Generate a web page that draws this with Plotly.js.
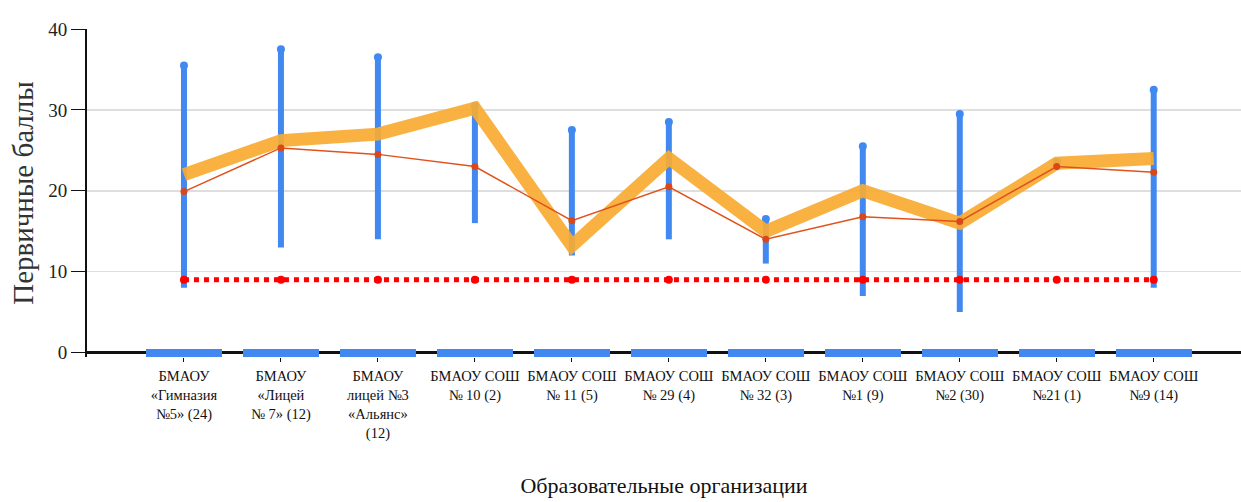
<!DOCTYPE html>
<html>
<head>
<meta charset="utf-8">
<script src="https://cdn.plot.ly/plotly-3.0.1.min.js"></script>
<style>html,body{margin:0;padding:0;background:#fff;}#chart{width:1241px;height:502px;}</style>
</head>
<body>
<div id="chart"></div>
<script>
// Categories (educational organisations, number of participants)
const categories = [
  "БМАОУ<br>«Гимназия<br>№5» (24)",
  "БМАОУ<br>«Лицей<br>№ 7» (12)",
  "БМАОУ<br>лицей №3<br>«Альянс»<br>(12)",
  "БМАОУ СОШ<br>№ 10 (2)",
  "БМАОУ СОШ<br>№ 11 (5)",
  "БМАОУ СОШ<br>№ 29 (4)",
  "БМАОУ СОШ<br>№ 32 (3)",
  "БМАОУ СОШ<br>№1 (9)",
  "БМАОУ СОШ<br>№2 (30)",
  "БМАОУ СОШ<br>№21 (1)",
  "БМАОУ СОШ<br>№9 (14)"
];
// Score range per organisation
const minScore = [8, 13, 14, 16, 12, 14, 11, 7, 5, 22.8, 8];
const maxScore = [35.5, 37.5, 36.5, 30.5, 27.5, 28.5, 16.5, 25.5, 29.5, 23.6, 32.5];
// Average score (thick orange line)
const avgScore = [22.0, 26.2, 27.0, 30.2, 13.2, 24.0, 15.0, 20.0, 16.0, 23.4, 24.0];
// Second series (thin red line)
const medScore = [19.9, 25.3, 24.5, 23.0, 16.3, 20.5, 14.0, 16.8, 16.2, 23.0, 22.3];
// Threshold (minimum passing score)
const threshold = [9, 9, 9, 9, 9, 9, 9, 9, 9, 9, 9];
// Zero-level series (blue bars at the axis)
const zeroSeries = [0, 0, 0, 0, 0, 0, 0, 0, 0, 0, 0];

const idx = categories.map((_, i) => i);
const blue = '#4189f0';

// vertical range segments
const rx = [], ry = [];
idx.forEach(i => { rx.push(i, i, null); ry.push(minScore[i], maxScore[i], null); });

const traces = [
  {
    type: 'bar', x: idx, y: zeroSeries.map(() => 0.95), base: zeroSeries.map(v => v - 0.5),
    width: 0.78, marker: {color: blue}, hoverinfo: 'skip', showlegend: false
  },
  {
    type: 'scatter', mode: 'lines', x: rx, y: ry,
    line: {color: blue, width: 6}, showlegend: false, hoverinfo: 'skip'
  },
  {
    type: 'scatter', mode: 'markers', x: idx, y: maxScore,
    marker: {color: blue, size: 8}, showlegend: false
  },
  {
    type: 'scatter', mode: 'lines+markers', x: idx, y: threshold,
    line: {color: '#ff0000', width: 5, dash: 'dot'},
    marker: {color: '#ff0000', size: 8}, showlegend: false
  },
  {
    type: 'scatter', mode: 'lines', x: idx, y: avgScore,
    line: {color: 'rgba(249,170,50,0.92)', width: 13}, showlegend: false
  },
  {
    type: 'scatter', mode: 'lines+markers', x: idx, y: medScore,
    line: {color: '#e0521c', width: 1.5},
    marker: {color: '#d9471a', size: 7}, showlegend: false
  }
];

const layout = {
  width: 1241, height: 502,
  margin: {l: 87, r: 0, t: 29, b: 144.5},
  paper_bgcolor: '#fff', plot_bgcolor: '#fff',
  font: {family: '"Liberation Serif", "DejaVu Serif", serif', color: '#222'},
  bargap: 0,
  xaxis: {
    range: [-1, 10.9], tickmode: 'array', tickvals: idx, ticktext: categories,
    showgrid: false, zeroline: false,
    ticks: 'outside', ticklen: 4, tickcolor: '#111', tickwidth: 1,
    ticklabelstandoff: 2,
    showline: false,
    tickfont: {size: 14.5, color: '#111'},
    title: {text: 'Образовательные организации', font: {size: 22, color: '#111'}, standoff: 36}
  },
  yaxis: {
    range: [-0.55, 40], tickvals: [0, 10, 20, 30, 40],
    showgrid: true, gridcolor: '#dedede', gridwidth: 1.5,
    zeroline: true, zerolinecolor: '#111', zerolinewidth: 3,
    showline: true, linecolor: '#111', linewidth: 2,
    ticks: 'outside', ticklen: 14, tickcolor: '#111',
    ticklabelstandoff: 0,
    tickfont: {size: 19, color: '#222'},
    title: {text: 'Первичные баллы', font: {size: 29, color: '#333'}, standoff: 6}
  }
};

Plotly.newPlot('chart', traces, layout, {displayModeBar: false, staticPlot: true});
</script>
</body>
</html>
